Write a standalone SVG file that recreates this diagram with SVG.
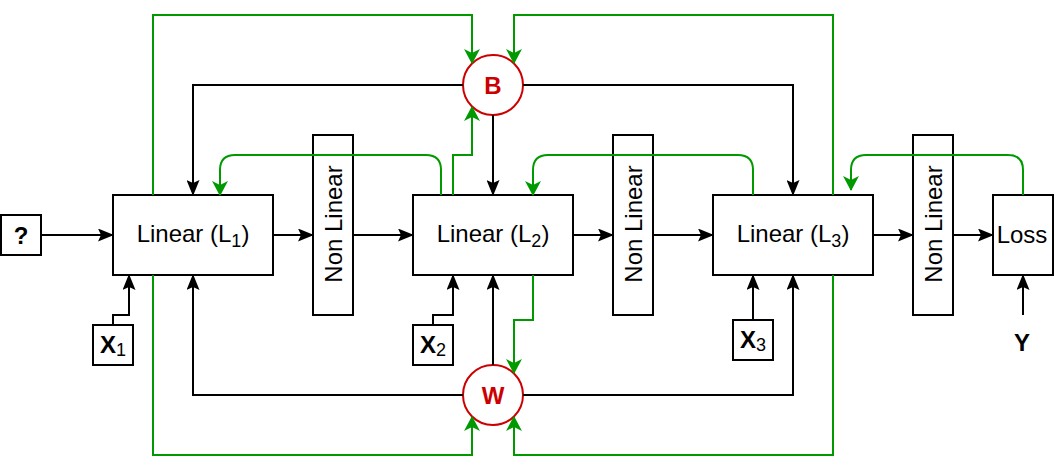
<svg xmlns="http://www.w3.org/2000/svg" width="1054" height="472" viewBox="0 0 1054 472">
<defs>
<style>
.box{fill:#fff;stroke:#000;stroke-width:2}
.nl{fill:none;stroke:#000;stroke-width:2}
.circ{fill:#fff;stroke:#CC0000;stroke-width:2}
.t{font-family:"Liberation Sans",Arial,sans-serif;font-size:24px;fill:#000}
.b{font-weight:bold}
.red{fill:#CC0000;font-weight:bold}
.k{fill:none;stroke:#000;stroke-width:2;marker-end:url(#ak)}
.g{fill:none;stroke:#009900;stroke-width:2;marker-end:url(#ag)}
</style>
<marker id="ak" markerUnits="userSpaceOnUse" markerWidth="16" markerHeight="13" viewBox="0 0 16 13" refX="15" refY="6.5" orient="auto">
<path d="M0,0 L16,6.5 L0,13 L3,6.5 Z" fill="#000"/>
</marker>
<marker id="ag" markerUnits="userSpaceOnUse" markerWidth="15" markerHeight="16" viewBox="0 0 15 16" refX="14" refY="8" orient="auto">
<path d="M0,0 L15,8 L0,16 L4,8 Z" fill="#009900"/>
</marker>
</defs>
<g id="q"><rect class="box" x="1" y="215" width="40" height="40"/><text class="t b" x="21" y="244" text-anchor="middle">?</text></g>
<g id="L1"><rect class="box" x="113" y="195" width="160" height="80"/><text class="t" x="193" y="242" text-anchor="middle">Linear (L<tspan font-size="18" dy="5">1</tspan><tspan dy="-5">)</tspan></text></g>
<g id="NL1"><rect class="nl" x="313" y="135" width="40" height="180"/><text class="t" transform="translate(342,224) rotate(-90)" text-anchor="middle">Non Linear</text></g>
<g id="L2"><rect class="box" x="413" y="195" width="160" height="80"/><text class="t" x="493" y="242" text-anchor="middle">Linear (L<tspan font-size="18" dy="5">2</tspan><tspan dy="-5">)</tspan></text></g>
<g id="NL2"><rect class="nl" x="613" y="135" width="40" height="180"/><text class="t" transform="translate(642,224) rotate(-90)" text-anchor="middle">Non Linear</text></g>
<g id="L3"><rect class="box" x="713" y="195" width="160" height="80"/><text class="t" x="793" y="242" text-anchor="middle">Linear (L<tspan font-size="18" dy="5">3</tspan><tspan dy="-5">)</tspan></text></g>
<g id="NL3"><rect class="nl" x="913" y="135" width="40" height="180"/><text class="t" transform="translate(942,224) rotate(-90)" text-anchor="middle">Non Linear</text></g>
<g id="Loss"><rect class="box" x="993" y="195" width="60" height="80"/><text class="t" x="1022" y="243" text-anchor="middle">Loss</text></g>
<g id="X1"><rect class="box" x="93" y="325" width="40" height="40"/><text class="t" x="113" y="353" text-anchor="middle"><tspan class="b">X</tspan><tspan font-size="18" dy="3">1</tspan></text></g>
<g id="X2"><rect class="box" x="413" y="325" width="40" height="40"/><text class="t" x="433" y="353" text-anchor="middle"><tspan class="b">X</tspan><tspan font-size="18" dy="3">2</tspan></text></g>
<g id="X3"><rect class="box" x="733" y="320" width="40" height="40"/><text class="t" x="753" y="348" text-anchor="middle"><tspan class="b">X</tspan><tspan font-size="18" dy="3">3</tspan></text></g>
<g id="Y"><text class="t b" x="1022" y="351" text-anchor="middle">Y</text></g>
<g id="B"><circle class="circ" cx="493" cy="85" r="30"/><text class="t red" x="493" y="94" text-anchor="middle">B</text></g>
<g id="W"><circle class="circ" cx="493" cy="395" r="30"/><text class="t red" x="493" y="404" text-anchor="middle">W</text></g>
<g id="connectors">
<path class="k" d="M41,235 H113"/>
<path class="k" d="M273,235 H313"/>
<path class="k" d="M353,235 H413"/>
<path class="k" d="M573,235 H613"/>
<path class="k" d="M653,235 H713"/>
<path class="k" d="M873,235 H913"/>
<path class="k" d="M953,235 H993"/>
<path class="k" d="M1023,315 V275"/>
<path class="k" d="M113,325 V315 H129 V275"/>
<path class="k" d="M433,325 V315 H453 V275"/>
<path class="k" d="M753,320 V275"/>
<path class="k" d="M463,85 H193 V195"/>
<path class="k" d="M493,115 V195"/>
<path class="k" d="M523,85 H793 V195"/>
<path class="k" d="M463,395 H193 V275"/>
<path class="k" d="M493,365 V275"/>
<path class="k" d="M523,395 H793 V275"/>
<path class="g" d="M153,195 V15 H472 V63"/>
<path class="g" d="M833,195 V15 H514 V63"/>
<path class="g" d="M453,195 V155 H472 V107"/>
<path class="g" d="M441,195 V170 Q441,155 426,155 H235 Q220,155 220,170 V195"/>
<path class="g" d="M753,195 V170 Q753,155 738,155 H548 Q533,155 533,170 V195"/>
<path class="g" d="M1023,195 V170 Q1023,155 1008,155 H866 Q851,155 851,170 V190"/>
<path class="g" d="M153,275 V455 H472 V417"/>
<path class="g" d="M833,275 V455 H514 V417"/>
<path class="g" d="M533,275 V320 H514 V373"/>
</g>
</svg>
